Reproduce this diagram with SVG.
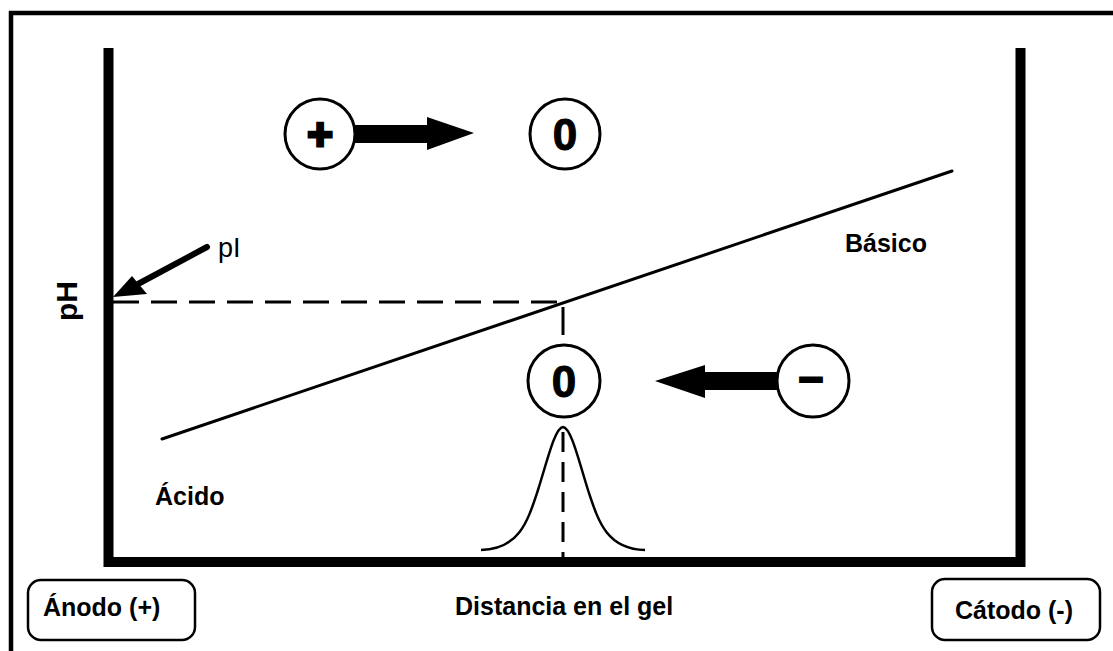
<svg xmlns="http://www.w3.org/2000/svg" width="1113" height="651" viewBox="0 0 1113 651">
<style>
.lbl{font-family:"Liberation Sans",Arial,sans-serif;font-weight:bold;font-size:25px;fill:#000}
.sym{font-family:"Liberation Sans",Arial,sans-serif;font-weight:bold;fill:#000;text-anchor:middle}
.ring{fill:#fff;stroke:#000;stroke-width:3}
.box{fill:#fff;stroke:#000;stroke-width:2.5}
.dash{fill:none;stroke:#000;stroke-width:3}
.blk{fill:#000;stroke:none}
</style>
<rect x="0" y="0" width="1113" height="651" fill="#fff"/>
<rect x="11" y="13" width="1110" height="650" fill="none" stroke="#000" stroke-width="4.5"/>
<g id="axes">
<path d="M108.5,48 V562 H1020.5 V48" fill="none" stroke="#000" stroke-width="10" stroke-linejoin="miter"/>
</g>
<g id="ph-label">
<text class="lbl" font-size="30" transform="translate(77,321) rotate(-90)" style="font-size:30px">pH</text>
</g>
<g id="connectors">
<line class="dash" x1="113" y1="302" x2="561" y2="302" stroke-dasharray="26 12"/>
<line class="dash" x1="563" y1="307" x2="563" y2="343" stroke-dasharray="28 10"/>
<line class="dash" x1="563" y1="432" x2="563" y2="557" stroke-dasharray="20 10"/>
<line x1="162" y1="439" x2="952" y2="171" stroke="#000" stroke-width="3" stroke-linecap="round"/>
<line x1="207" y1="247" x2="138" y2="284" stroke="#000" stroke-width="6" stroke-linecap="round"/>
<polygon class="blk" points="113,297 132,276 147,294"/>
<path d="M481,550 C520,549 528,520 538,490 C548,458 555,428 563,427 C571,428 578,458 588,490 C598,520 606,549 645,550" fill="none" stroke="#000" stroke-width="2.5"/>
</g>
<g id="pos-ion">
<circle class="ring" cx="320" cy="134" r="35"/>
<text class="sym" x="320" y="149.5" font-size="44" stroke="#000" stroke-width="3">+</text>
<polygon class="blk" points="354,125 427,125 427,117 474,133 427,150 427,143 354,143"/>
</g>
<g id="neutral-top">
<circle class="ring" cx="565" cy="134" r="35"/>
<text class="sym" x="565" y="150" font-size="44" stroke="#000" stroke-width="1">0</text>
</g>
<g id="neutral-bottom">
<circle class="ring" cx="564" cy="381" r="36"/>
<text class="sym" x="564" y="397" font-size="44" stroke="#000" stroke-width="1">0</text>
</g>
<g id="neg-ion">
<circle class="ring" cx="813" cy="381" r="36"/>
<text class="sym" x="811" y="392" font-size="44" stroke="#000" stroke-width="2">–</text>
<polygon class="blk" points="778,372 705,372 705,365 655,381 705,398 705,390 778,390"/>
</g>
<g id="pi-label">
<text x="218" y="257" font-family="Liberation Sans, Arial, sans-serif" font-size="27">pI</text>
</g>
<g id="basico"><text class="lbl" x="845" y="252">Básico</text></g>
<g id="acido"><text class="lbl" x="155" y="505">Ácido</text></g>
<g id="anodo">
<rect class="box" x="28" y="580" width="167" height="60" rx="13"/>
<text class="lbl" x="43" y="616">Ánodo (+)</text>
</g>
<g id="distancia"><text class="lbl" x="455" y="615">Distancia en el gel</text></g>
<g id="catodo">
<rect class="box" x="932" y="579" width="168" height="61" rx="13"/>
<text class="lbl" x="955" y="619">Cátodo (-)</text>
</g>
</svg>
